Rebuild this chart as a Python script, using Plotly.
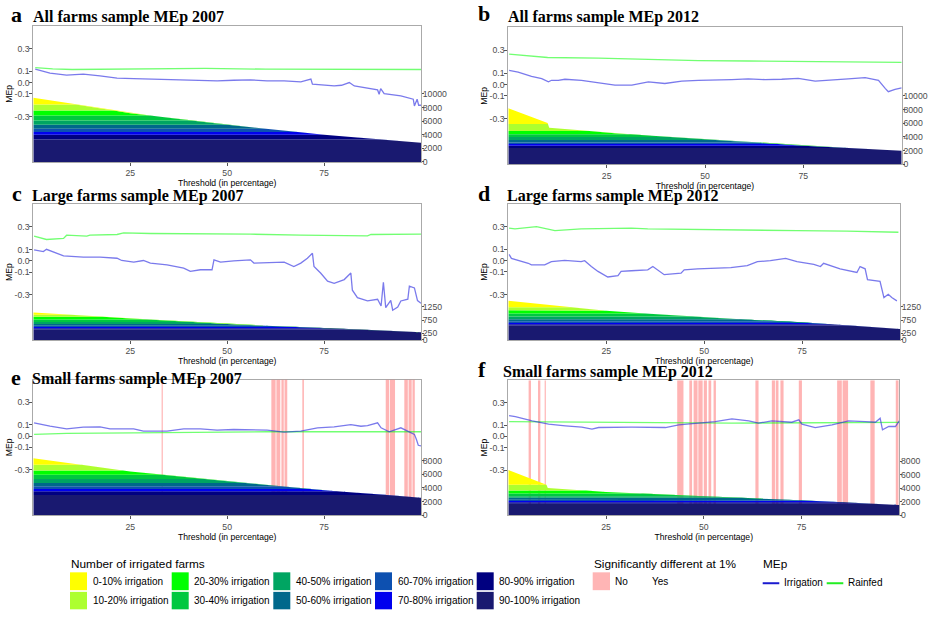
import numpy as np
import plotly.graph_objects as go

W, H = 931, 617

# ------------------------------------------------------------------ data
categories = ["0-10% irrigation", "10-20% irrigation", "20-30% irrigation",
              "30-40% irrigation", "40-50% irrigation", "50-60% irrigation",
              "60-70% irrigation", "70-80% irrigation", "80-90% irrigation",
              "90-100% irrigation"]

# --- a: All farms 2007
a_irr_x = [0.5, 4.3, 8.6, 12.9, 17.2, 21.6, 25.9, 30.2, 34.5, 38.8, 43.1, 47.4, 51.7, 56, 60.3,
           64.7, 69, 71.6, 72, 73.3, 77.6, 79.5, 81.5, 82.8, 86.2, 88.8, 89.2, 89.6, 90.5, 94.8,
           98.0, 98.3, 99.0, 99.4, 100]
a_irr_y = [0.118, 0.082, 0.065, 0.074, 0.059, 0.038, 0.035, 0.030, 0.030, 0.020, 0.015, 0.015,
           0.020, 0.024, 0.015, 0.015, 0.006, 0.030, -0.015, -0.018, -0.030, -0.024, 0.000,
           -0.030, -0.053, -0.065, -0.103, -0.053, -0.097, -0.118, -0.147, -0.206, -0.147,
           -0.200, -0.200]
a_rain_x = [0.5, 5, 10, 30, 44.4, 60, 80, 100]
a_rain_y = [0.132, 0.120, 0.115, 0.118, 0.124, 0.118, 0.118, 0.115]
a_env_x = [0, 25, 50, 75, 100]
a_env_y = [9414, 7174, 5461, 3997, 2826]
a_levels = [8433, 7555, 6823, 6091, 5461, 4876, 4392, 3997, 3309, 0]
a_no = []

# --- b: All farms 2012
b_irr_x = [0.2, 2.5, 5.9, 8.5, 10.2, 11.0, 12.7, 14.4, 18.6, 22.9, 27.1, 31.4, 35.6, 39.8, 44.1,
           48.3, 52.5, 56.8, 61, 65.3, 69.5, 73.7, 78, 82.2, 86.4, 90.7, 94.1, 95.8, 96.6, 98.3, 100]
b_irr_y = [0.123, 0.109, 0.071, 0.051, 0.023, 0.037, 0.037, 0.046, 0.037, 0.014, -0.006, -0.006,
           0.023, 0.009, 0.029, 0.037, 0.037, 0.043, 0.049, 0.043, 0.046, 0.054, 0.029, 0.037,
           0.049, 0.060, 0.037, -0.034, -0.063, -0.043, -0.029]
b_rain_x = [0.2, 10, 22.9, 35.6, 48.3, 61, 73.7, 86.4, 100]
b_rain_y = [0.266, 0.237, 0.231, 0.217, 0.209, 0.206, 0.200, 0.200, 0.194]
b_env_x = [0, 10.0, 10.4, 28.4, 50, 75, 100]
b_env_y = [8200, 6057, 5343, 4486, 3671, 2714, 2000]
b_levels = [5914, 4857, 4386, 4000, 3571, 3200, 2957, 2714, 2386, 0]
b_no = []

# --- c: Large farms 2007
c_irr_x = [0.2, 2.6, 3.4, 5.2, 7.8, 12.9, 17.2, 21.6, 22.8, 25.9, 28.4, 30.2, 34.5, 38.8, 40.5,
           43.1, 46.1, 46.6, 48.3, 51.7, 56, 56.9, 64.7, 67.2, 69, 70.7, 72, 72.4, 74.1, 75.9,
           77.6, 80.2, 81.9, 82.3, 83.6, 86.2, 88.8, 89.7, 90.3, 90.9, 92.2, 92.7, 94.0, 94.8,
           96.6, 97.0, 98.3, 99.1, 100]
c_irr_y = [0.096, 0.082, 0.102, 0.076, 0.044, 0.032, 0.032, 0.023, 0.003, -0.012, 0.003, -0.020,
           -0.035, -0.064, -0.093, -0.079, -0.079, 0.009, -0.012, 0.000, 0.009, -0.020, -0.012,
           -0.050, -0.020, 0.023, 0.067, -0.050, -0.108, -0.180, -0.200, -0.166, -0.108, -0.260,
           -0.326, -0.355, -0.340, -0.400, -0.190, -0.414, -0.350, -0.437, -0.410, -0.355, -0.340,
           -0.224, -0.240, -0.352, -0.376]
c_rain_x = [0.2, 3.4, 7.8, 8.6, 13.8, 14.6, 21.6, 23.3, 30.2, 43.1, 56, 69, 77.6, 86.2, 87.1, 94.8, 100]
c_rain_y = [0.218, 0.189, 0.198, 0.227, 0.218, 0.227, 0.233, 0.248, 0.242, 0.242, 0.236, 0.227,
            0.221, 0.221, 0.233, 0.236, 0.236]
c_env_x = [0, 25, 50, 75, 100]
c_env_y = [1037, 812, 599, 449, 288]
c_levels = [951, 876, 775, 674, 599, 539, 487, 438, 389, 0]
c_no = []

# --- d: Large farms 2012
d_irr_x = [0.2, 0.8, 5.1, 5.9, 9.3, 11.0, 14.4, 18.6, 19.5, 21.2, 22.9, 25.4, 28.0, 28.8, 31.4,
           35.6, 36.9, 39.8, 44.1, 44.9, 48.3, 56.8, 61, 63.6, 66.9, 70.8, 73.7, 78, 79.7, 80.5,
           84.7, 89, 89.8, 91.1, 91.7, 94.9, 95.9, 97, 97.9, 99.2]
d_irr_y = [0.055, 0.020, -0.023, -0.037, -0.037, -0.009, 0.003, -0.009, 0.000, -0.052, -0.095,
           -0.144, -0.133, -0.095, -0.089, -0.081, -0.052, -0.124, -0.110, -0.081, -0.072, -0.061,
           -0.043, -0.009, 0.000, 0.020, -0.009, -0.032, -0.052, -0.023, -0.072, -0.104, -0.052,
           -0.072, -0.167, -0.182, -0.326, -0.297, -0.326, -0.355]
d_rain_x = [0.2, 1.7, 7.2, 9.3, 11.9, 18.6, 31.4, 35.6, 48.3, 61, 73.7, 86.4, 99.6]
d_rain_y = [0.288, 0.280, 0.300, 0.286, 0.265, 0.280, 0.288, 0.280, 0.274, 0.265, 0.265, 0.260, 0.251]
d_env_x = [0, 25, 50, 75, 100]
d_env_y = [1475, 1100, 850, 662, 412]
d_levels = [1235, 1120, 1000, 880, 780, 700, 640, 590, 540, 0]
d_no = []

# --- e: Small farms 2007
e_irr_x = [0.2, 4.3, 8.6, 12.9, 17.2, 19.8, 25.9, 28.4, 34.5, 38.8, 43.1, 47.4, 51.7, 60.3, 64.7,
           69, 73.3, 77.6, 81.9, 84.5, 86.2, 88.8, 89.7, 91.8, 94.8, 96.6, 98.3, 98.8, 99.3, 100]
e_irr_y = [0.117, 0.087, 0.064, 0.079, 0.082, 0.064, 0.064, 0.044, 0.044, 0.064, 0.064, 0.052,
           0.058, 0.052, 0.035, 0.044, 0.073, 0.082, 0.102, 0.087, 0.093, 0.117, 0.073, 0.038,
           0.073, 0.044, 0.015, -0.029, -0.082, -0.087]
e_rain_x = [0.2, 8.6, 25.9, 43.1, 60.3, 77.6, 100]
e_rain_y = [0.015, 0.023, 0.029, 0.035, 0.038, 0.038, 0.038]
e_env_x = [0, 25, 50, 75, 100]
e_env_y = [8378, 6444, 4989, 3680, 2560]
e_levels = [7418, 6589, 5964, 5324, 4742, 4262, 3869, 3535, 2953, 0]
e_no = [(33.1, 33.4), (61.4, 62.5), (62.7, 63.7), (64.0, 64.6), (64.8, 65.5), (69.4, 69.8),
        (90.9, 91.8), (92.0, 93.3), (95.7, 96.6), (96.8, 97.6), (97.8, 98.4)]

# --- f: Small farms 2012
f_irr_x = [0.2, 1.8, 6.1, 10.3, 14.6, 18.8, 21.4, 23.1, 31.6, 40.2, 43.6, 48.7, 52.9, 57.2, 61.5,
           64, 67.4, 72.5, 74.3, 75.1, 78.5, 82.8, 87, 91.3, 93.9, 95.1, 95.7, 97.3, 99, 100]
f_irr_y = [0.185, 0.176, 0.138, 0.109, 0.094, 0.082, 0.065, 0.079, 0.082, 0.079, 0.103, 0.118,
           0.132, 0.156, 0.138, 0.118, 0.138, 0.126, 0.147, 0.109, 0.079, 0.103, 0.138, 0.132,
           0.126, 0.162, 0.059, 0.088, 0.088, 0.138]
f_rain_x = [0.2, 23.1, 57.2, 100]
f_rain_y = [0.132, 0.124, 0.118, 0.124]
f_env_x = [0, 9.7, 10.1, 25, 50, 75, 100]
f_env_y = [6690, 4596, 4015, 3436, 2807, 2182, 1500]
f_levels = [4509, 3636, 3200, 2807, 2560, 2269, 2080, 1891, 1687, 0]
f_no = [(5.2, 5.8), (7.6, 8.2), (9.3, 9.6), (43.2, 44.8), (46.3, 47.0), (47.4, 48.4), (48.6, 49.7),
        (50.0, 50.8), (51.2, 51.9), (52.5, 53.1), (63.2, 64.0), (67.4, 68.2), (68.4, 69.1),
        (69.6, 70.4), (74.3, 75.1), (84.1, 85.3), (85.5, 86.9), (92.6, 93.7), (99.1, 99.8)]

panel_titles = ["All farms sample MEp 2007", "All farms sample MEp 2012",
                "Large farms sample MEp 2007", "Large farms sample MEp 2012",
                "Small farms sample MEp 2007", "Small farms sample MEp 2012"]
panel_letters = ["a", "b", "c", "d", "e", "f"]
mep_ticks = [0.3, 0.1, 0.0, -0.1, -0.3]
mep_ticktext = ["0.3", "0.1", "0.0", "-0.1", "-0.3"]
count_ticks_big = [0, 2000, 4000, 6000, 8000, 10000]
count_ticks_large = [0, 250, 750, 1250]
count_ticks_small = [0, 2000, 4000, 6000, 8000]
x_ticks = [25, 50, 75]

# ------------------------------------------------------------------ style
band_colors = ["#FFFF00", "#ADFF2F", "#00FF00", "#00C840", "#00A562",
               "#00688B", "#0D50B0", "#0000EE", "#000080", "#191970"]
IRR_LINE = "rgba(40,40,225,0.62)"
RAIN_LINE = "rgba(20,255,20,0.6)"
NO_FILL = "rgba(255,105,105,0.5)"
TICK_FONT = dict(family="Liberation Sans, Arial", size=8.7, color="#4D4D4D")
AX_TITLE_FONT = dict(family="Liberation Sans, Arial", size=8.6, color="#000000")
MEP_RANGE = [-0.70, 0.50]

panels = [
    dict(irr=(a_irr_x, a_irr_y), rain=(a_rain_x, a_rain_y), env=(a_env_x, a_env_y), lev=a_levels,
         no=a_no, cmax=20000, cticks=count_ticks_big, px=(33.3, 421.0, 26.0, 163.3),
         letter=(10, 22.0), title=(31.7, 22.7)),
    dict(irr=(b_irr_x, b_irr_y), rain=(b_rain_x, b_rain_y), env=(b_env_x, b_env_y), lev=b_levels,
         no=b_no, cmax=20000, cticks=count_ticks_big, px=(508.3, 901.7, 27.7, 165.7),
         letter=(476.7, 17.0), title=(506.7, 22.7)),
    dict(irr=(c_irr_x, c_irr_y), rain=(c_rain_x, c_rain_y), env=(c_env_x, c_env_y), lev=c_levels,
         no=c_no, cmax=5120, cticks=count_ticks_large, px=(33.3, 421.0, 206.0, 342.7),
         letter=(11, 201.7), title=(31, 202.5)),
    dict(irr=(d_irr_x, d_irr_y), rain=(d_rain_x, d_rain_y), env=(d_env_x, d_env_y), lev=d_levels,
         no=d_no, cmax=5120, cticks=count_ticks_large, px=(508.3, 900.0, 205.7, 342.7),
         letter=(476.7, 201.7), title=(505.7, 203.3)),
    dict(irr=(e_irr_x, e_irr_y), rain=(e_rain_x, e_rain_y), env=(e_env_x, e_env_y), lev=e_levels,
         no=e_no, cmax=20000, cticks=count_ticks_small, px=(33.3, 421.0, 382.7, 519.3),
         letter=(10, 387.5), title=(31, 387.0)),
    dict(irr=(f_irr_x, f_irr_y), rain=(f_rain_x, f_rain_y), env=(f_env_x, f_env_y), lev=f_levels,
         no=f_no, cmax=20000, cticks=count_ticks_small, px=(508.3, 899.3, 383.3, 519.3),
         letter=(476.7, 379.5), title=(502.3, 380.0)),
]


def PX(x):
    return x / W


def PY(y):
    return 1 - y / H


def band_stack(env_x, env_y, levels):
    """Vertices of the envelope polyline (plus the points where it meets a band
    boundary) and the visible height of every band at those vertices."""
    xs, ys = [env_x[0]], [env_y[0]]
    for i in range(len(env_x) - 1):
        x0, x1, y0, y1 = env_x[i], env_x[i + 1], env_y[i], env_y[i + 1]
        cross = [L for L in levels if min(y0, y1) < L < max(y0, y1)]
        cross.sort(reverse=(y0 > y1))
        for L in cross:
            t = (L - y0) / (y1 - y0)
            xs.append(x0 + t * (x1 - x0))
            ys.append(L)
        xs.append(x1)
        ys.append(y1)
    xs, ys = np.array(xs), np.array(ys, dtype=float)
    his = [np.inf] + list(levels[:-1])
    vals = [np.clip(ys - lo, 0, hi - lo) for lo, hi in zip(levels, his)]
    return xs, vals


fig = go.Figure()
layout = dict(width=W, height=H, margin=dict(l=0, r=0, t=0, b=0),
              paper_bgcolor="white", plot_bgcolor="white", showlegend=False,
              barmode="overlay", annotations=[], shapes=[])

for i, p in enumerate(panels):
    xn = "x" if i == 0 else f"x{i + 1}"
    yl = "y" if i == 0 else f"y{2 * i + 1}"
    yr = f"y{2 * i + 2}"
    xkey = "xaxis" if i == 0 else f"xaxis{i + 1}"
    ylkey = "yaxis" if i == 0 else f"yaxis{2 * i + 1}"
    yrkey = f"yaxis{2 * i + 2}"
    x0, x1, y0, y1 = p["px"]

    # significance ("No") stripes
    if p["no"]:
        starts = [s for s, e in p["no"]]
        ends = [e for s, e in p["no"]]
        fig.add_trace(go.Bar(
            x=[(s + e) / 2 for s, e in zip(starts, ends)],
            width=[e - s for s, e in zip(starts, ends)],
            y=[MEP_RANGE[1] - MEP_RANGE[0]] * len(starts), base=[MEP_RANGE[0]] * len(starts),
            marker=dict(color=NO_FILL, line=dict(width=0)), xaxis=xn, yaxis=yl,
            name="No", hoverinfo="skip"))

    # MEp lines
    fig.add_trace(go.Scatter(x=p["rain"][0], y=p["rain"][1], mode="lines", name="Rainfed",
                             line=dict(color=RAIN_LINE, width=1.3), xaxis=xn, yaxis=yl))
    fig.add_trace(go.Scatter(x=p["irr"][0], y=p["irr"][1], mode="lines", name="Irrigation",
                             line=dict(color=IRR_LINE, width=1.3), xaxis=xn, yaxis=yl))

    # stacked farm counts (bottom band first)
    xs, vals = band_stack(p["env"][0], p["env"][1], p["lev"])
    for k in reversed(range(len(categories))):
        fig.add_trace(go.Scatter(x=xs, y=vals[k], mode="lines", stackgroup=f"g{i}",
                                 line=dict(width=0, color=band_colors[k]),
                                 fillcolor=band_colors[k], name=categories[k],
                                 xaxis=xn, yaxis=yr, hoverinfo="skip"))

    dom_x = [PX(x0), PX(x1)]
    dom_y = [PY(y1), PY(y0)]
    layout[xkey] = dict(domain=dom_x, anchor=yl, range=[0, 100], tickvals=x_ticks,
                        ticks="outside", ticklen=3, tickcolor="#555555", tickfont=TICK_FONT,
                        showgrid=False, zeroline=False, showline=True, mirror=True,
                        linecolor="#AAAAAA", linewidth=1, layer="below traces",
                        title=dict(text="Threshold (in percentage)", font=AX_TITLE_FONT,
                                   standoff=0))
    layout[ylkey] = dict(domain=dom_y, anchor=xn, range=MEP_RANGE, tickvals=mep_ticks,
                         ticktext=mep_ticktext, ticks="outside", ticklen=3,
                         ticklabelstandoff=-2,
                         tickcolor="#555555", tickfont=TICK_FONT, showgrid=False,
                         zeroline=False, showline=True, mirror=True, linecolor="#AAAAAA",
                         linewidth=1, layer="below traces",
                         title=dict(text="MEp", font=AX_TITLE_FONT, standoff=0))
    layout[yrkey] = dict(overlaying=yl, anchor=xn, side="right", range=[0, p["cmax"]],
                         tickvals=p["cticks"], ticktext=[str(v) for v in p["cticks"]],
                         ticks="outside", ticklen=2, ticklabelstandoff=-3,
                         tickcolor="#555555", tickfont=TICK_FONT, showgrid=False,
                         zeroline=False, showline=False)

    # panel letter and title
    lx, lb = p["letter"]
    tx, tb = p["title"]
    layout["annotations"].append(dict(
        text=f"<b>{panel_letters[i]}</b>", x=PX(lx), y=PY(max(lb - 7.0, 14.0)),
        xref="paper", yref="paper", xanchor="left", yanchor="middle", showarrow=False,
        borderpad=0, font=dict(family="Liberation Serif", size=22, color="black")))
    layout["annotations"].append(dict(
        text=f"<b>{panel_titles[i]}</b>", x=PX(tx), y=PY(tb - 5.3), xref="paper", yref="paper",
        xanchor="left", yanchor="middle", showarrow=False, borderpad=0,
        font=dict(family="Liberation Serif", size=16, color="black")))

# ------------------------------------------------------------------ legend (drawn)
LEG_TITLE = dict(family="Liberation Sans, Arial", size=11.8, color="black")
LEG_TEXT = dict(family="Liberation Sans, Arial", size=10, color="black")


def leg_text(txt, x, y, font):
    layout["annotations"].append(dict(text=txt, x=PX(x), y=PY(y), xref="paper", yref="paper",
                                      xanchor="left", yanchor="middle", showarrow=False,
                                      font=font))


leg_text("Number of irrigated farms", 69, 569, LEG_TITLE)
col_x = [70, 171.7, 273.3, 375, 476.7]
row_y = [(577, 595), (596.7, 614.3)]
for k, cat in enumerate(categories):
    cx = col_x[k // 2]
    ry0, ry1 = row_y[k % 2]
    layout["shapes"].append(dict(type="rect", xref="paper", yref="paper",
                                 x0=PX(cx), x1=PX(cx + 17), y0=PY(ry1), y1=PY(ry0),
                                 fillcolor=band_colors[k], line=dict(width=0)))
    leg_text(cat, cx + 20.5, (ry0 + ry1) / 2, LEG_TEXT)

leg_text("Significantly different at 1%", 592, 569, LEG_TITLE)
layout["shapes"].append(dict(type="rect", xref="paper", yref="paper", x0=PX(592.7), x1=PX(610),
                             y0=PY(595), y1=PY(577), fillcolor="#FFB5B5", line=dict(width=0)))
leg_text("No", 613, 586, LEG_TEXT)
leg_text("Yes", 650, 586, LEG_TEXT)

leg_text("MEp", 761, 569, LEG_TITLE)
layout["shapes"].append(dict(type="line", xref="paper", yref="paper", x0=PX(762.7), x1=PX(779.3),
                             y0=PY(588), y1=PY(588), line=dict(color="#1A1ACF", width=2)))
leg_text("Irrigation", 781.5, 587, LEG_TEXT)
layout["shapes"].append(dict(type="line", xref="paper", yref="paper", x0=PX(826.7), x1=PX(843.3),
                             y0=PY(588), y1=PY(588), line=dict(color="#22EE22", width=2)))
leg_text("Rainfed", 845.5, 587, LEG_TEXT)

fig.update_layout(**layout)
fig.write_html("out.html", config={"displayModeBar": False},
               post_script="document.body.style.margin='0';"
                           "document.documentElement.style.overflow='hidden';")
